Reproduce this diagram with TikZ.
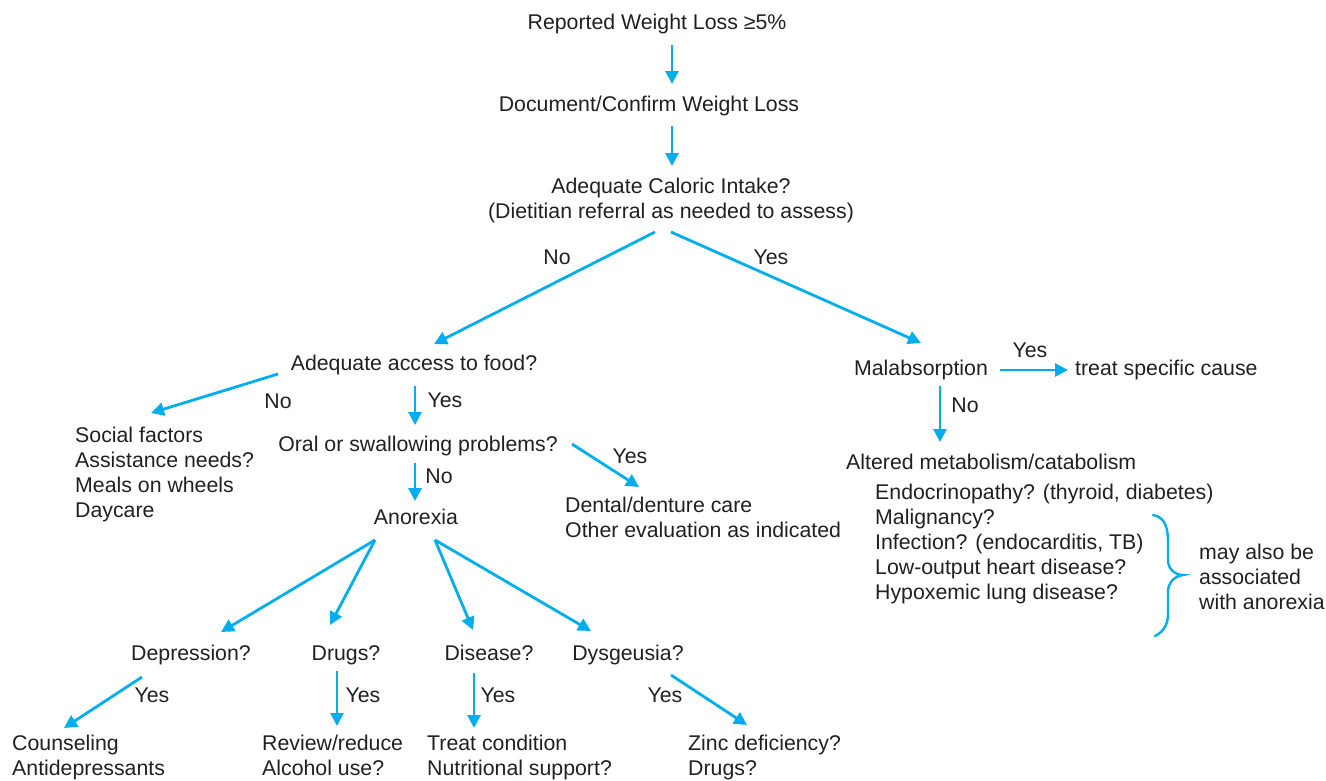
\documentclass[tikz,border=0pt]{standalone}
\usepackage{fontspec}
\setmainfont{Liberation Sans}
\usetikzlibrary{arrows.meta}
\definecolor{flow}{RGB}{0,174,239}
\definecolor{ink}{RGB}{35,31,32}
\begin{document}
\begin{tikzpicture}[x=1pt,y=-1pt,
  every node/.style={font=\fontsize{21.3}{25}\selectfont, inner sep=0pt, text=ink},
  arr/.style={draw=flow, line width=2.8pt, -{Triangle[length=13pt,width=13pt]}},
  txt/.style={align=left, anchor=base west},
  one/.style={anchor=base},
  onew/.style={anchor=base west}]
\useasboundingbox (0,0) rectangle (1326,780);
% text nodes (multi-line nodes are placed at the baseline of their last line)
\node[one] (rep) at (657,29.5) {Reported Weight Loss ≥5\%};
\node[one] (doc) at (649,111.5) {Document/Confirm Weight Loss};
\node[align=center, anchor=base] (cal) at (671,218.5) {Adequate Caloric Intake?\\(Dietitian referral as needed to assess)};
\node[one] (acc) at (414,370.5) {Adequate access to food?};
\node[txt] (soc) at (75,517.5) {Social factors\\Assistance needs?\\Meals on wheels\\Daycare};
\node[one] (oral) at (418,451.5) {Oral or swallowing problems?};
\node[one] (ano) at (416,524.5) {Anorexia};
\node[txt] (dent) at (565,537.5) {Dental/denture care\\Other evaluation as indicated};
\node[one] (dep) at (191,660.5) {Depression?};
\node[one] (drg) at (346,660.5) {Drugs?};
\node[one] (dis) at (489,660.5) {Disease?};
\node[one] (dys) at (628,660.5) {Dysgeusia?};
\node[txt] (cou) at (12,775) {Counseling\\Antidepressants};
\node[txt] (rev) at (262,775) {Review/reduce\\Alcohol use?};
\node[txt] (tre) at (427,775) {Treat condition\\Nutritional support?};
\node[txt] (zin) at (688,775) {Zinc deficiency?\\Drugs?};
\node[one] (mal) at (921,375.5) {Malabsorption};
\node[onew] (tsc) at (1075,375.5) {treat specific cause};
\node[onew] (alt) at (846,469.5) {Altered metabolism/catabolism};
\node[txt] (lst) at (875,599.5) {Endocrinopathy? (thyroid, diabetes)\\Malignancy?\\Infection? (endocarditis, TB)\\Low-output heart disease?\\Hypoxemic lung disease?};
\node[txt] (may) at (1199,609.5) {may also be\\associated\\with anorexia};
% labels
\node[one] (lNo1) at (557,264.5) {No};
\node[one] (lYes1) at (771,264.5) {Yes};
\node[one] (lNo2) at (278,408.5) {No};
\node[one] (lYes2) at (445,407.5) {Yes};
\node[one] (lYes3) at (630,463.5) {Yes};
\node[one] (lNo3) at (439,483.5) {No};
\node[one] (lYes4) at (152,702.5) {Yes};
\node[one] (lYes5) at (363,702.5) {Yes};
\node[one] (lYes6) at (498,702.5) {Yes};
\node[one] (lYes7) at (665,702.5) {Yes};
\node[one] (lYes8) at (1030,357.5) {Yes};
\node[one] (lNo4) at (965,412.5) {No};
% connector end points
\coordinate (c1a) at (672,45);   \coordinate (c1b) at (672,84);
\coordinate (c2a) at (672,126);  \coordinate (c2b) at (672,166);
\coordinate (c3a) at (655,232);  \coordinate (c3b) at (434,344);
\coordinate (c4a) at (671,232);  \coordinate (c4b) at (921,343);
\coordinate (c5a) at (278,374);  \coordinate (c5b) at (151,413);
\coordinate (c6a) at (415,386);  \coordinate (c6b) at (415,425);
\coordinate (c7a) at (572,444);  \coordinate (c7b) at (639,487);
\coordinate (c8a) at (415,463);  \coordinate (c8b) at (415,501);
\coordinate (c9a) at (375,540);
\coordinate (c9b) at (221,632);
\coordinate (c10b) at (330,625);
\coordinate (c11a) at (435,540);
\coordinate (c11b) at (473,630);
\coordinate (c12b) at (591,631);
\coordinate (c13a) at (142,677); \coordinate (c13b) at (64,728);
\coordinate (c14a) at (337,671); \coordinate (c14b) at (337,726);
\coordinate (c15a) at (474,673); \coordinate (c15b) at (474,728);
\coordinate (c16a) at (671,675); \coordinate (c16b) at (747,725);
\coordinate (c17a) at (1000,370); \coordinate (c17b) at (1068,370);
\coordinate (c18a) at (940,386); \coordinate (c18b) at (940,442);
% connectors
\draw[arr] (c1a) -- (c1b);
\draw[arr] (c2a) -- (c2b);
\draw[arr] (c3a) -- (c3b);
\draw[arr] (c4a) -- (c4b);
\draw[arr] (c5a) -- (c5b);
\draw[arr] (c6a) -- (c6b);
\draw[arr] (c7a) -- (c7b);
\draw[arr] (c8a) -- (c8b);
\draw[arr] (c9a) -- (c9b);
\draw[arr] (c9a) -- (c10b);
\draw[arr] (c11a) -- (c11b);
\draw[arr] (c11a) -- (c12b);
\draw[arr] (c13a) -- (c13b);
\draw[arr] (c14a) -- (c14b);
\draw[arr] (c15a) -- (c15b);
\draw[arr] (c16a) -- (c16b);
\draw[arr] (c17a) -- (c17b);
\draw[arr] (c18a) -- (c18b);
% brace
\draw[flow, line width=2.4pt, line cap=round]
  (1153,515) .. controls (1166,517) and (1168,530) .. (1168,542)
  -- (1168,560) .. controls (1168,569) and (1175,575) .. (1183,575)
  .. controls (1175,576) and (1168,582) .. (1168,592)
  -- (1168,614) .. controls (1168,625) and (1163,632) .. (1155,636);
\end{tikzpicture}
\end{document}
